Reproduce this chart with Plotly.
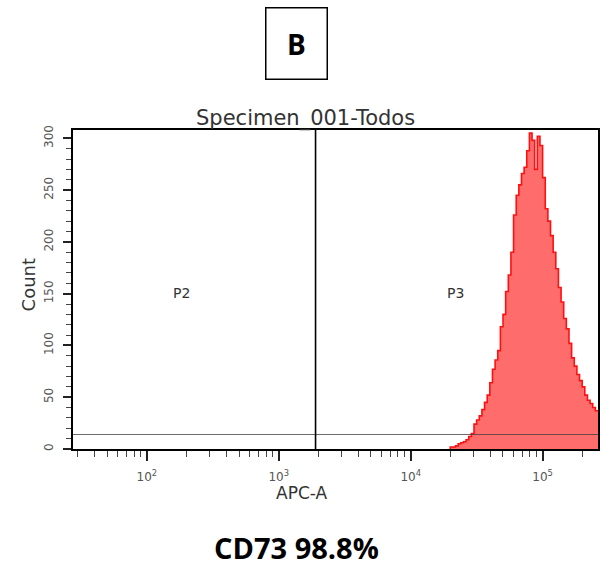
import numpy as np
import plotly.graph_objects as go

# histogram bins (log10 of APC-A), step 0.02 decade starting at 10^4.30
bin_start = 4.30
bin_step = 0.02
counts = [2, 2, 3, 5, 6, 7, 9, 12, 15, 24, 28, 32, 38, 45, 52, 64, 77, 86, 95, 118,
          130, 152, 168, 190, 226, 245, 255, 266, 272, 288, 305, 298, 270, 302, 293, 262,
          232, 220, 206, 190, 174, 156, 142, 126, 116, 102, 88, 80, 72, 66, 60, 52, 47,
          44, 40, 37]

gate_x = 1900          # P2 / P3 divider on APC-A
marker_y = 14          # horizontal marker line on Count
x_range = [1.44, 5.42]  # log10
y_range = [0, 308]

major_x = [1e2, 1e3, 1e4, 1e5]
major_x_text = ["10<sup>2</sup>", "10<sup>3</sup>", "10<sup>4</sup>", "10<sup>5</sup>"]

edges = [10 ** (bin_start + i * bin_step) for i in range(len(counts) + 1)]
xs = [edges[0]] + edges
ys = [0] + counts + [counts[-1]]

fig = go.Figure()
fig.add_trace(go.Scatter(
    x=xs, y=ys, mode="lines", line_shape="hv",
    line=dict(color="#ff1010", width=1.6),
    fill="tozeroy", fillcolor="rgba(255,100,100,0.95)",
    hoverinfo="skip", showlegend=False,
))
fig.add_trace(go.Scatter(
    x=[10 ** x_range[0], 10 ** x_range[1]], y=[marker_y, marker_y], mode="lines",
    line=dict(color="rgba(60,60,60,0.75)", width=1.2), showlegend=False, hoverinfo="skip",
))
fig.add_trace(go.Scatter(
    x=[gate_x, gate_x], y=y_range, mode="lines",
    line=dict(color="black", width=1.6), showlegend=False, hoverinfo="skip",
))

minor_x = [m * 10 ** d for d in range(1, 6) for m in range(2, 10)
           if x_range[0] < np.log10(m * 10 ** d) < x_range[1]]

tick_font = dict(family="DejaVu Sans", size=12, color="#555")
fig.update_xaxes(
    type="log", range=x_range, showgrid=False, zeroline=False,
    showline=True, linecolor="black", linewidth=1.6, mirror=True,
    tickmode="array", tickvals=major_x, ticktext=major_x_text,
    ticks="outside", ticklen=10, tickwidth=1.5, tickcolor="#222",
    tickfont=tick_font, ticklabelstandoff=6,
    minor=dict(tickmode="array", tickvals=minor_x, ticks="outside",
               ticklen=6, tickwidth=1.2, tickcolor="#444"),
)
fig.update_yaxes(
    range=y_range, showgrid=False, zeroline=False,
    showline=True, linecolor="black", linewidth=1.6, mirror=True,
    tickmode="linear", tick0=0, dtick=50, tickangle=-90,
    ticks="outside", ticklen=8, tickwidth=1.5, tickcolor="#222",
    tickfont=tick_font, ticklabelstandoff=5,
    minor=dict(dtick=10, ticks="outside", ticklen=5, tickwidth=1.2, tickcolor="#444"),
)


def note(text, x, y, size, family="DejaVu Sans", color="#333", **kw):
    return dict(text=text, x=x, y=y, xref="paper", yref="paper",
                xanchor="center", yanchor="middle", showarrow=False,
                font=dict(family=family, size=size, color=color), **kw)


fig.update_layout(
    width=605, height=569,
    margin=dict(l=73, r=5, t=130, b=120),
    paper_bgcolor="white", plot_bgcolor="white",
    annotations=[
        note("<b>B</b>", 0.425, 1.270, 28, family="Open Sans", color="black",
             width=58, height=68, borderpad=1, bordercolor="black", borderwidth=1.5),
        note("Specimen_001-Todos", 0.442, 1.035, 21),
        note("Count", -0.085, 0.514, 18, textangle=-90),
        note("APC-A", 0.436, -0.138, 17),
        note("<b>CD73 98.8%</b>", 0.425, -0.310, 29, family="Open Sans", color="black"),
        note("P2", 0.207, 0.489, 14),
        note("P3", 0.729, 0.489, 14),
    ],
)

# drop the default page margin so the figure fills the window exactly
fig.write_html("out.html", config={"displayModeBar": False},
               post_script="document.body.style.margin='0';")
